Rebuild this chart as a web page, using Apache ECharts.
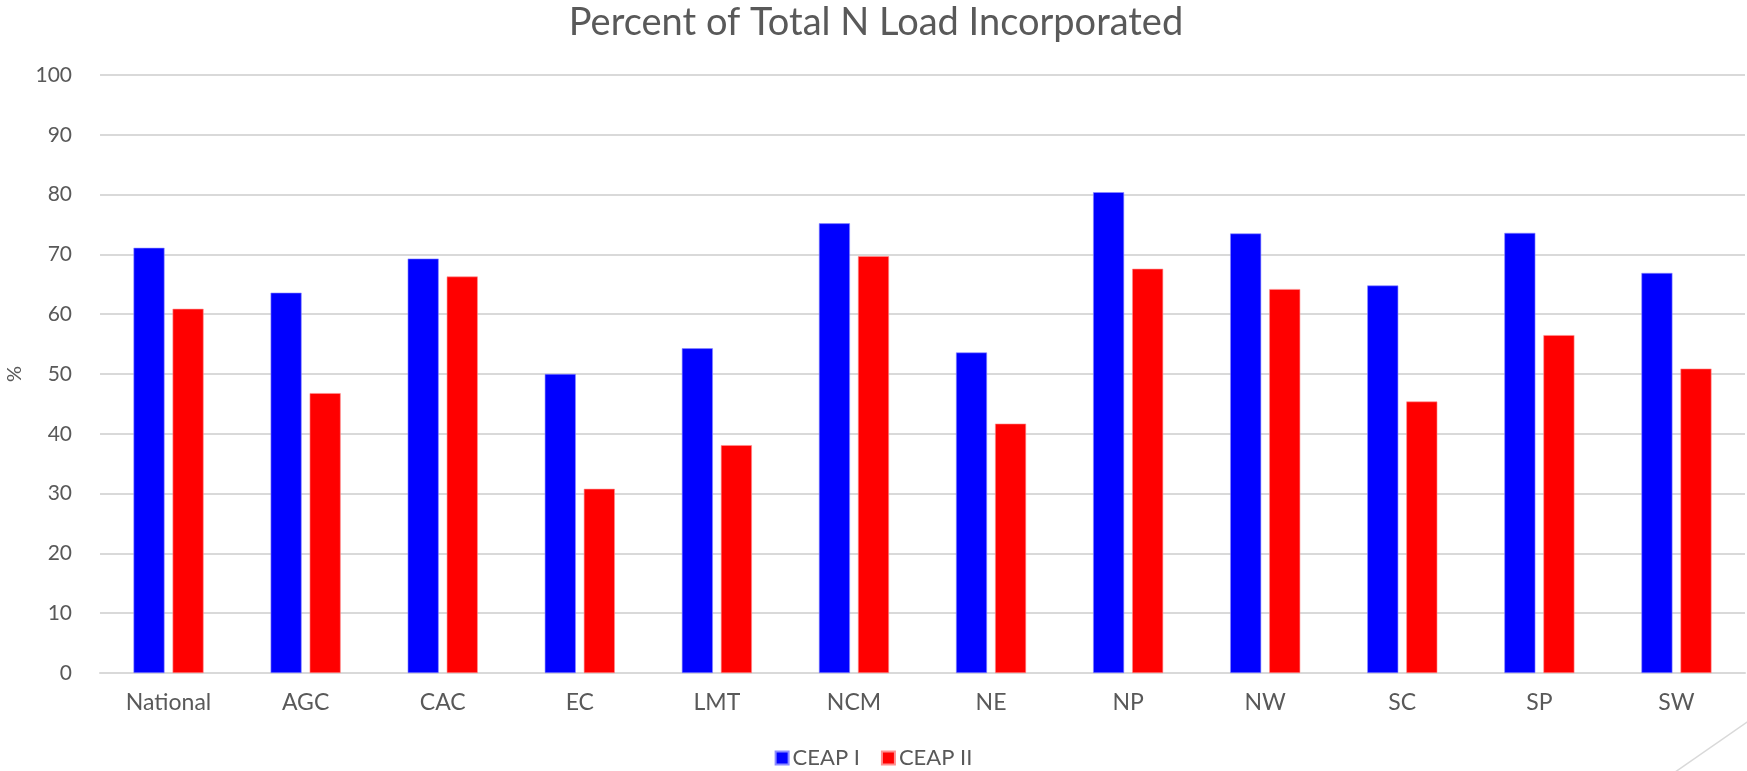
<!DOCTYPE html>
<html>
<head>
<meta charset="utf-8">
<script src="https://cdn.jsdelivr.net/npm/echarts@6/dist/echarts.min.js"></script>
<style>
  html, body { margin: 0; padding: 0; background: #ffffff; }
  #chart { width: 1747px; height: 771px; }
</style>
</head>
<body>
<div id="chart"></div>
<script>
// Regions and the share of total N load incorporated (%)
const categories = ['National', 'AGC', 'CAC', 'EC', 'LMT', 'NCM', 'NE', 'NP', 'NW', 'SC', 'SP', 'SW'];
const ceap1 = [71.1, 63.6, 69.3, 50.0, 54.3, 75.2, 53.6, 80.4, 73.5, 64.8, 73.6, 66.9];
const ceap2 = [60.9, 46.8, 66.3, 30.8, 38.1, 69.7, 41.7, 67.6, 64.2, 45.4, 56.5, 50.9];
const yTicks = { min: 0, max: 100, interval: 10 };

const textColor = '#595959';
const font = 'Lato, "Open Sans", sans-serif';

const chart = echarts.init(document.getElementById('chart'), null, { renderer: 'canvas' });

chart.setOption({
  backgroundColor: '#ffffff',
  animation: false,
  textStyle: { fontFamily: font, color: textColor },
  title: {
    text: 'Percent of Total N Load Incorporated',
    left: 871,
    textAlign: 'center',
    top: -1,
    textStyle: { fontFamily: font, fontSize: 38, fontWeight: 'normal', color: textColor }
  },
  legend: {
    data: ['CEAP I', 'CEAP II'],
    left: 'center',
    top: 742,
    itemWidth: 13,
    itemHeight: 13,
    itemGap: 21,
    icon: 'rect',
    textStyle: { fontFamily: font, fontSize: 22, color: textColor, padding: [0, 0, 0, -1] }
  },
  grid: { left: 100, right: 2, top: 75, bottom: 98, containLabel: false, outerBoundsMode: 'none' },
  xAxis: {
    type: 'category',
    data: categories,
    axisLine: { show: true, lineStyle: { color: '#d9d9d9', width: 2 } },
    axisTick: { show: false },
    axisLabel: { fontFamily: font, fontSize: 23, color: textColor, margin: 18 }
  },
  yAxis: {
    type: 'value',
    min: yTicks.min,
    max: yTicks.max,
    interval: yTicks.interval,
    name: '%',
    nameLocation: 'middle',
    nameGap: 75,
    nameTextStyle: { fontFamily: font, fontSize: 20, color: textColor },
    axisLine: { show: false },
    axisTick: { show: false },
    axisLabel: { fontFamily: font, fontSize: 21, color: textColor, margin: 28 },
    splitLine: { lineStyle: { color: '#d9d9d9', width: 2 } }
  },
  series: [
    {
      name: 'CEAP I',
      type: 'bar',
      data: ceap1,
      barWidth: 31,
      barGap: '26%',
      itemStyle: { color: '#0000ff', borderColor: '#8c8cff', borderWidth: 0.6 }
    },
    {
      name: 'CEAP II',
      type: 'bar',
      data: ceap2,
      barWidth: 31,
      itemStyle: { color: '#ff0000', borderColor: '#ff9090', borderWidth: 0.6 }
    }
  ],
  graphic: [
    {
      type: 'line',
      silent: true,
      shape: { x1: 1760, y1: 713, x2: 1668, y2: 777 },
      style: { stroke: '#d9d9d9', lineWidth: 1.5 }
    }
  ]
});
</script>
</body>
</html>
